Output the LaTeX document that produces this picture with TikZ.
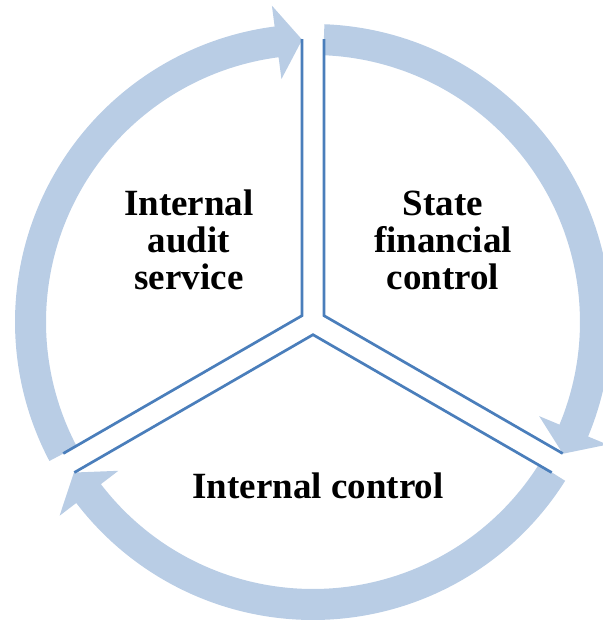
\documentclass[tikz,border=0pt]{standalone}
\usepackage{fontspec}
\setmainfont{Liberation Serif}
\definecolor{ringblue}{HTML}{B9CDE5}
\definecolor{lineblue}{HTML}{4A7EBB}

\begin{document}
\begin{tikzpicture}[
	x=0.5pt, y=0.5pt,
	ringarrow/.style={fill=ringblue, draw=none},
	splitline/.style={draw=lineblue, line width=1.35pt, line join=miter},
	labeltext/.style={font=\fontsize{18.5}{18.5}\selectfont\bfseries, align=center, inner sep=0pt}
	]
	\useasboundingbox (-313,-301) rectangle (290,322);
	% Circular arrows
	\fill[ringarrow] (87.8:298) arc[start angle=87.8, end angle=-22.6, radius=298] -- (-22.6:319) -- (-27.8:282.5) -- (-22.6:245) -- (-22.6:267) arc[start angle=-22.6, end angle=87.8, radius=267] -- cycle;
	\fill[ringarrow] (-32.2:298) arc[start angle=-32.2, end angle=-142.6, radius=298] -- (-142.6:319) -- (-147.8:282.5) -- (-142.6:245) -- (-142.6:267) arc[start angle=-142.6, end angle=-32.2, radius=267] -- cycle;
	\fill[ringarrow] (207.8:298) arc[start angle=207.8, end angle=97.4, radius=298] -- (97.4:319) -- (92.2:282.5) -- (97.4:245) -- (97.4:267) arc[start angle=97.4, end angle=207.8, radius=267] -- cycle;
	%Lines
	\draw[splitline] (-11,283) -- (150:12.7) -- ([shift={(120:11)}]210:282);
	\draw[splitline] ([shift={(300:11)}]210:282) -- (270:12.7) -- ([shift={(240:11)}]330:282);
	\draw[splitline] ([shift={(60:11)}]330:282) -- (30:12.7) -- (11,283);
	%Nodes
	\node[labeltext] (AuditService) at (-124,82) {Internal\\audit\\service};
	\node[labeltext] (StateControl) at (130,82) {State\\financial\\control};
	\node[labeltext, anchor=base] (InternalControl) at (5,-176) {Internal control};
\end{tikzpicture}
\end{document}
